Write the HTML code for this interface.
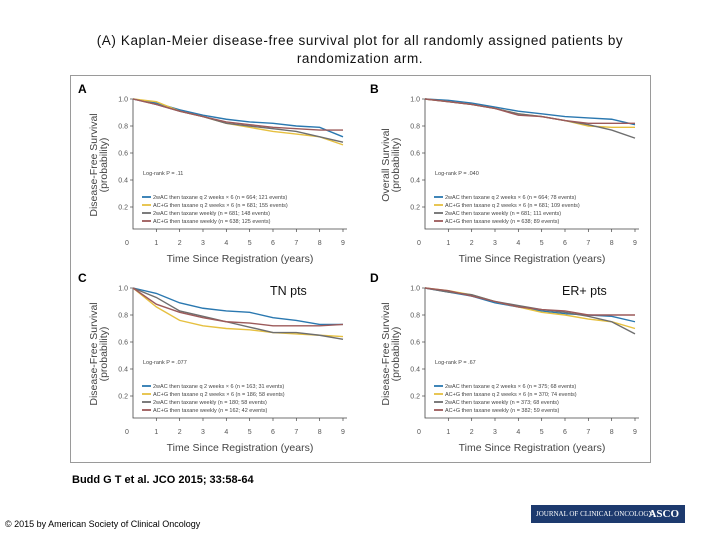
<!DOCTYPE html>
<html><head><meta charset="utf-8"><style>
body{margin:0;width:720px;height:540px;background:#fff;overflow:hidden;font-family:"Liberation Sans",sans-serif}
#title{position:absolute;top:32px;left:0;width:720px;text-align:center;font-size:13.5px;line-height:18px;letter-spacing:0.6px;color:#111}
#cite{position:absolute;left:72px;top:474px;font-size:11px;font-weight:bold}
#copy{position:absolute;left:5px;top:519px;font-size:9px}
#logo{position:absolute;left:531px;top:505px;width:154px;height:18px;background:#1d3a6e;color:#fff;font-family:"Liberation Serif",serif;font-size:7px;line-height:18px}
</style></head><body>
<div id="title">(A) Kaplan-Meier disease-free survival plot for all randomly assigned patients by<br>randomization arm.</div>
<svg id="fig" width="720" height="540" style="position:absolute;left:0;top:0"></svg>
<div id="cite">Budd G T et al. JCO 2015; 33:58-64</div>
<div id="copy">© 2015 by American Society of Clinical Oncology</div>
<div id="logo"><span style="margin-left:5px">JOURNAL OF CLINICAL ONCOLOGY</span><span style="position:absolute;right:6px;font-size:11px;font-weight:bold">ASCO</span></div>
<script>
const years=[0,1,2,3,4,5,6,7,8,9];
const yTicks=[0.2,0.4,0.6,0.8,1.0];
const yTickLabels=["0.2","0.4","0.6","0.8","1.0"];
const seriesColors=["#2a78b0","#e6c040","#6e6e6e","#9c5a5a"];
const aBlue=[1,.97,.92,.88,.85,.83,.82,.80,.79,.72];
const aYellow=[1,.98,.91,.87,.82,.79,.76,.74,.72,.66];
const aGray=[1,.96,.91,.87,.82,.80,.78,.76,.72,.68];
const aBrown=[1,.96,.91,.87,.83,.81,.79,.78,.77,.77];
const bBlue=[1,.99,.97,.94,.91,.89,.87,.86,.85,.81];
const bYellow=[1,.98,.96,.93,.89,.87,.84,.80,.79,.79];
const bGray=[1,.98,.96,.93,.89,.87,.84,.81,.77,.71];
const bBrown=[1,.98,.96,.93,.88,.87,.84,.82,.82,.82];
const cBlue=[1,.96,.89,.85,.83,.82,.78,.76,.73,.73];
const cYellow=[1,.86,.76,.72,.70,.69,.67,.66,.65,.64];
const cGray=[1,.93,.83,.79,.75,.71,.67,.67,.65,.62];
const cBrown=[1,.88,.82,.78,.75,.74,.72,.72,.72,.73];
const dBlue=[1,.97,.94,.89,.86,.83,.81,.80,.79,.75];
const dYellow=[1,.98,.95,.90,.86,.82,.80,.77,.75,.70];
const dGray=[1,.97,.95,.90,.87,.84,.82,.79,.75,.66];
const dBrown=[1,.98,.94,.90,.86,.84,.83,.80,.80,.80];
const legA=["2wAC then taxane q 2 weeks × 6 (n = 664; 121 events)","AC+G then taxane q 2 weeks × 6 (n = 681; 155 events)","2wAC then taxane weekly (n = 681; 148 events)","AC+G then taxane weekly (n = 638; 125 events)"];
const legB=["2wAC then taxane q 2 weeks × 6 (n = 664; 78 events)","AC+G then taxane q 2 weeks × 6 (n = 681; 109 events)","2wAC then taxane weekly (n = 681; 111 events)","AC+G then taxane weekly (n = 638; 89 events)"];
const legC=["2wAC then taxane q 2 weeks × 6 (n = 163; 31 events)","AC+G then taxane q 2 weeks × 6 (n = 186; 58 events)","2wAC then taxane weekly (n = 180; 58 events)","AC+G then taxane weekly (n = 162; 42 events)"];
const legD=["2wAC then taxane q 2 weeks × 6 (n = 375; 68 events)","AC+G then taxane q 2 weeks × 6 (n = 370; 74 events)","2wAC then taxane weekly (n = 373; 68 events)","AC+G then taxane weekly (n = 382; 59 events)"];
const svg=document.getElementById('fig');
const NS="http://www.w3.org/2000/svg";
function mk(tag,attrs,parent,text){const e=document.createElementNS(NS,tag);for(const k in attrs)e.setAttribute(k,attrs[k]);if(text!==undefined)e.textContent=text;(parent||svg).appendChild(e);return e;}
const frame=mk('rect',{x:70.5,y:75.5,width:580,height:387,fill:'none',stroke:'#9a9a9a'});


function panel(ox,oy,letter,ylab,logrank,series,legend,note,noteX){
  const g=mk('g',{transform:`translate(${ox},${oy})`});
  
  
  const X=v=>133+v*(210/9), Y=v=>234-v*135;
  mk('text',{x:78,y:93,'font-size':12,'font-weight':'bold'},g,letter);
  const ax=mk('path',{d:`M133,99V229H347`,stroke:'#444','stroke-width':0.8,fill:'none'},g);
  
  
  yTicks.forEach((t,i)=>{mk('line',{x1:130,x2:133,y1:Y(t),y2:Y(t),stroke:'#444','stroke-width':0.7},g);
    mk('text',{x:128,y:Y(t)+2.5,'font-size':7,'text-anchor':'end',fill:'#555'},g,yTickLabels[i]);});
  mk('text',{x:127,y:245,'font-size':7,'text-anchor':'middle',fill:'#555'},g,'0');
  years.slice(1).forEach(t=>{mk('line',{x1:X(t),x2:X(t),y1:229,y2:232,stroke:'#444','stroke-width':0.7},g);
    mk('text',{x:X(t),y:245,'font-size':7,'text-anchor':'middle',fill:'#555'},g,String(t));});
  const xt=mk('text',{x:240,y:262,'font-size':10.5,'text-anchor':'middle',fill:'#444'},g,'Time Since Registration (years)');
  
  
  const yt=mk('text',{transform:'translate(97,165) rotate(-90)','font-size':10.5,'text-anchor':'middle',fill:'#444'},g,ylab);
  
  
  mk('text',{transform:'translate(107,165) rotate(-90)','font-size':10.5,'text-anchor':'middle',fill:'#444'},g,'(probability)');
  mk('text',{x:143,y:175,'font-size':5.5,fill:'#444'},g,logrank);
  series.forEach((s,i)=>{let d=`M${X(years[0])},${Y(s[0])}`;
    for(let k=1;k<years.length;k++){d+=`L${X(years[k])},${Y(s[k])}`;}
    const p=mk('path',{d,stroke:seriesColors[i],'stroke-width':1.4,fill:'none'},g);
    
    });
  legend.forEach((t,i)=>{const y=197+i*8;
    mk('line',{x1:142,x2:151,y1:y,y2:y,stroke:seriesColors[i],'stroke-width':1.8},g);
    const lt=mk('text',{x:153,y:y+2,'font-size':5.5,fill:'#444'},g,t);
    
    });
  if(note){const n=mk('text',{x:noteX,y:295,'font-size':12.5,fill:'#111'},svg,note);
    
    }
}
panel(0,0,'A','Disease-Free Survival','Log-rank P = .11',[aBlue,aYellow,aGray,aBrown],legA);
panel(292,0,'B','Overall Survival','Log-rank P = .040',[bBlue,bYellow,bGray,bBrown],legB);
panel(0,189,'C','Disease-Free Survival','Log-rank P = .077',[cBlue,cYellow,cGray,cBrown],legC,'TN pts',270);
panel(292,189,'D','Disease-Free Survival','Log-rank P = .67',[dBlue,dYellow,dGray,dBrown],legD,'ER+ pts',562);
</script>
</body></html>
